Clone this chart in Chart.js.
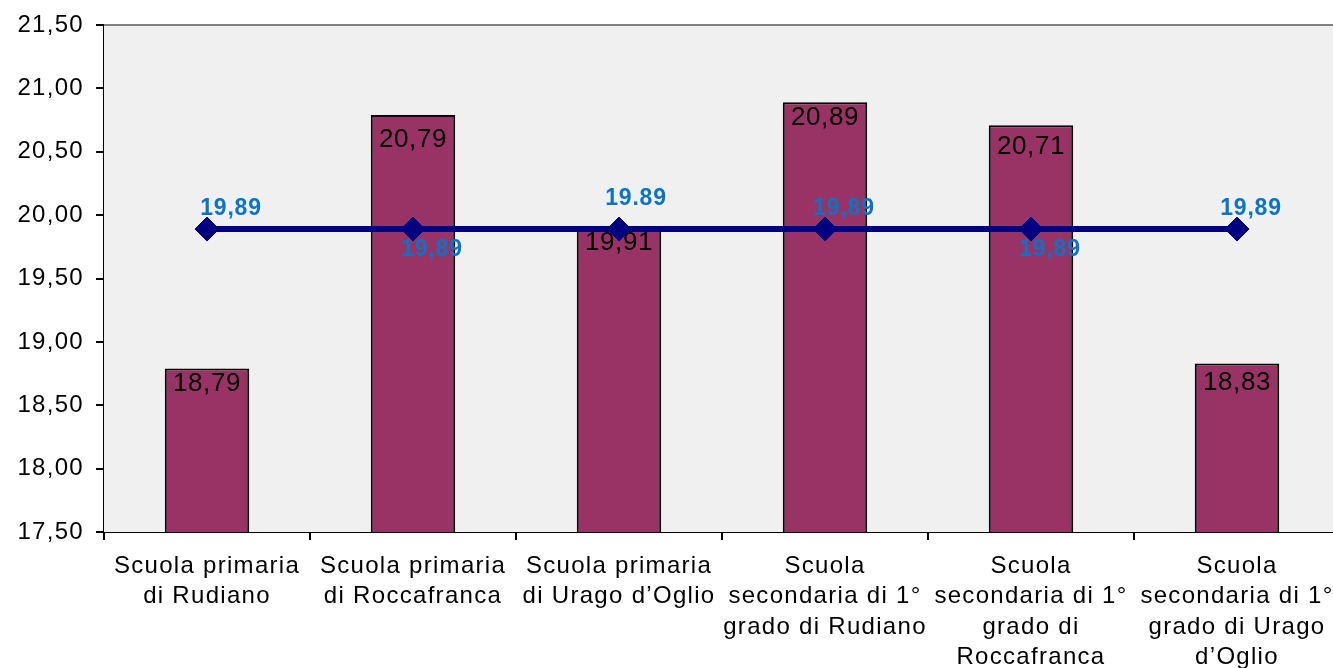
<!DOCTYPE html>
<html>
<head>
<meta charset="utf-8">
<script src="https://cdn.jsdelivr.net/npm/chart.js@4.4.1/dist/chart.umd.min.js"></script>
<style>
  html, body { margin: 0; padding: 0; overflow: hidden; background: #fff; }
  canvas { display: block; }
</style>
</head>
<body>
<canvas id="chart" width="1340" height="668"></canvas>
<script>
const categories = [
    ['Scuola primaria', 'di Rudiano'],
    ['Scuola primaria', 'di Roccafranca'],
    ['Scuola primaria', 'di Urago d\u2019Oglio'],
    ['Scuola', 'secondaria di 1\u00b0', 'grado di Rudiano'],
    ['Scuola', 'secondaria di 1\u00b0', 'grado di', 'Roccafranca'],
    ['Scuola', 'secondaria di 1\u00b0', 'grado di Urago', 'd\u2019Oglio']
];
const barValues = [18.79, 20.79, 19.91, 20.89, 20.71, 18.83];
const lineValues = [19.89, 19.89, 19.89, 19.89, 19.89, 19.89];
const lineLabels = ['19,89', '19,89', '19.89', '19,89', '19,89', '19,89'];

const FONT = '"Liberation Sans", Arial, sans-serif';
const SPACING = '1.3px';

// label placement, relative to the bar top / the diamond
const barLabelDy = [15, 25, 16, 16, 22, 19];
const lineLabelOffsets = [[24, -20], [19, 21], [17, -30], [19, -20], [19, 21], [14, -20]];

function fmt(v) {
    return v.toFixed(2).replace('.', ',');
}

const letterSpacing = {
    id: 'letterSpacing',
    beforeLayout(chart) { chart.ctx.letterSpacing = SPACING; },
    beforeDraw(chart) { chart.ctx.letterSpacing = SPACING; }
};

const plotBg = {
    id: 'plotBg',
    beforeDatasetsDraw(chart) {
        const { ctx, chartArea: a } = chart;
        ctx.save();
        ctx.fillStyle = '#f0f0f0';
        ctx.fillRect(a.left, a.top, a.right - a.left, a.bottom - a.top);
        ctx.strokeStyle = '#808080';
        ctx.lineWidth = 2;
        ctx.beginPath();
        ctx.moveTo(a.left, a.top);
        ctx.lineTo(a.right, a.top);
        ctx.stroke();
        ctx.restore();
    }
};

const valueLabels = {
    id: 'valueLabels',
    afterDatasetDraw(chart, args) {
        if (args.index !== 0) return;
        const ctx = chart.ctx;
        ctx.save();
        ctx.letterSpacing = '0.6px';
        ctx.font = '26px ' + FONT;
        ctx.fillStyle = '#000';
        ctx.textAlign = 'center';
        ctx.textBaseline = 'middle';
        chart.getDatasetMeta(0).data.forEach((bar, i) => {
            ctx.fillText(fmt(barValues[i]), bar.x, bar.y + barLabelDy[i]);
        });
        ctx.restore();
    },
    afterDatasetsDraw(chart) {
        const ctx = chart.ctx;
        ctx.save();
        ctx.letterSpacing = '0.8px';
        ctx.font = 'bold 23px ' + FONT;
        ctx.fillStyle = '#0a74c8';
        ctx.textAlign = 'center';
        ctx.textBaseline = 'middle';
        chart.getDatasetMeta(1).data.forEach((pt, i) => {
            const off = lineLabelOffsets[i];
            ctx.fillText(lineLabels[i], pt.x + off[0], pt.y + off[1]);
        });
        ctx.restore();
    }
};

new Chart(document.getElementById('chart'), {
    type: 'bar',
    data: {
        labels: categories,
        datasets: [
            {
                type: 'bar',
                data: barValues,
                backgroundColor: '#993366',
                borderColor: '#000',
                borderWidth: 2,
                barPercentage: 0.41,
                categoryPercentage: 1,
                order: 1
            },
            {
                type: 'line',
                data: lineValues,
                borderColor: '#000080',
                borderWidth: 6,
                pointStyle: 'rectRot',
                pointRadius: 12,
                pointBackgroundColor: '#000080',
                pointBorderColor: '#000080',
                pointBorderWidth: 1,
                order: 0
            }
        ]
    },
    options: {
        responsive: false,
        animation: false,
        layout: {
            autoPadding: false,
            padding: { top: 25, right: 0, left: 0, bottom: 0 }
        },
        plugins: {
            legend: { display: false },
            tooltip: { enabled: false }
        },
        scales: {
            x: {
                offset: true,
                grid: {
                    offset: true,
                    drawOnChartArea: false,
                    drawTicks: true,
                    tickLength: 8,
                    color: '#000',
                    lineWidth: 2
                },
                border: { color: '#000', width: 2 },
                ticks: {
                    color: '#000',
                    font: { family: FONT, size: 24, lineHeight: 1.27 },
                    padding: 11,
                    maxRotation: 0,
                    autoSkip: false
                },
                afterFit(scale) {
                    scale.height = 136;
                    scale.paddingLeft = 0;
                    scale.paddingRight = 0;
                }
            },
            y: {
                min: 17.5,
                max: 21.5,
                grid: {
                    drawOnChartArea: false,
                    drawTicks: true,
                    tickLength: 8,
                    color: '#000',
                    lineWidth: 2
                },
                border: { color: '#000', width: 2 },
                ticks: {
                    stepSize: 0.5,
                    color: '#000',
                    font: { family: FONT, size: 24 },
                    padding: 12,
                    callback: (v) => fmt(v)
                },
                afterFit(scale) {
                    scale.width = 104;
                    scale.paddingTop = 0;
                    scale.paddingBottom = 0;
                }
            }
        }
    },
    plugins: [letterSpacing, plotBg, valueLabels]
});
</script>
</body>
</html>
